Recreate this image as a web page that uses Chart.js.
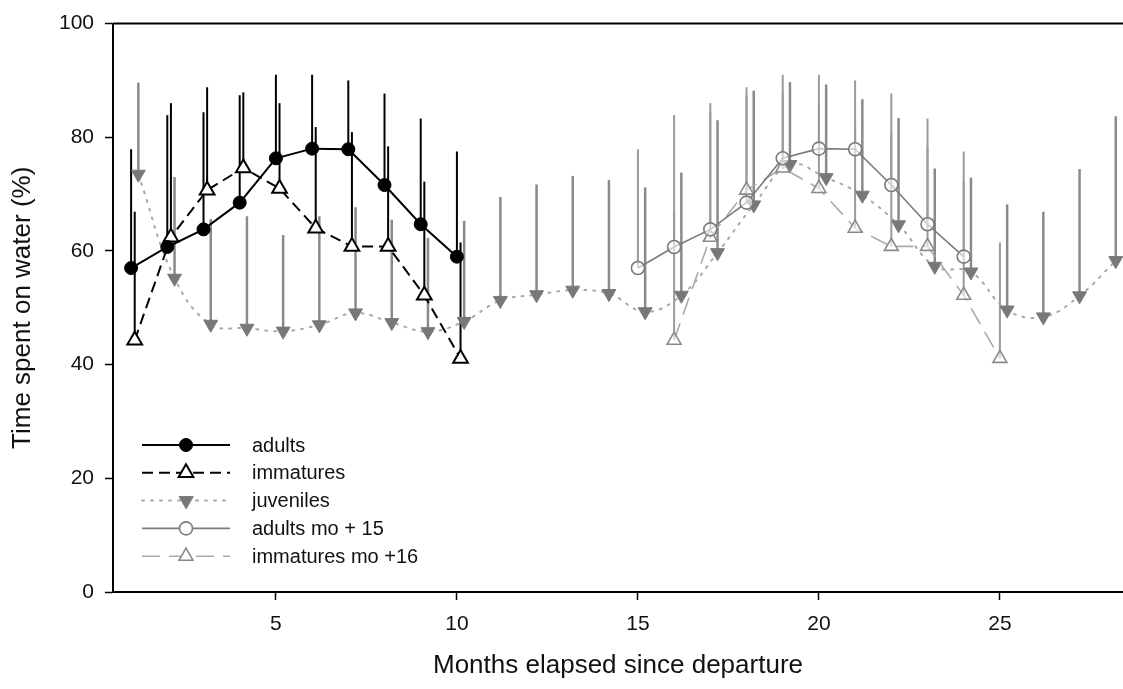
<!DOCTYPE html>
<html>
<head>
<meta charset="utf-8">
<script src="https://cdn.jsdelivr.net/npm/chart.js@4.4.1/dist/chart.umd.min.js"></script>
<style>
  html, body { margin: 0; padding: 0; background: #fff; }
  #wrap { width: 1123px; height: 689px; }
</style>
</head>
<body>
<div id="wrap"><canvas id="chart" width="1123" height="689"></canvas></div>
<script>
// months for each group
const months = [1, 2, 3, 4, 5, 6, 7, 8, 9, 10]
const juvMonths = [1, 2, 3, 4, 5, 6, 7, 8, 9, 10, 11, 12, 13, 14, 15, 16, 17, 18, 19, 20, 21, 22, 23, 24, 25, 26, 27, 28]

// mean % time on water, and top of the error bar
const adults = [57.0, 60.7, 63.8, 68.5, 76.3, 78.0, 77.9, 71.6, 64.7, 59.0]
const adultsUpper = [77.9, 83.9, 84.4, 87.4, 91.0, 91.0, 90.0, 87.7, 83.3, 77.5]
const immatures = [44.3, 62.4, 70.7, 74.6, 71.0, 64.0, 60.8, 60.8, 52.2, 41.1]
const immaturesUpper = [66.9, 86.0, 88.8, 87.9, 86.0, 81.8, 80.9, 78.4, 72.2, 61.5]
const juveniles = [73.5, 55.2, 47.1, 46.4, 45.9, 47.0, 49.1, 47.4, 45.8, 47.6, 51.3, 52.3, 53.1, 52.5,
  49.3, 52.2, 59.7, 68.1, 75.2, 72.9, 69.8, 64.6, 57.3, 56.3, 49.6, 48.4, 52.1, 58.3]
const juvenilesUpper = [89.6, 73.0, 65.6, 66.1, 62.8, 66.1, 67.7, 65.5, 62.3, 65.3, 69.5, 71.7, 73.2, 72.5,
  71.2, 73.8, 83.0, 88.2, 89.7, 89.3, 86.7, 83.4, 74.5, 72.9, 68.2, 66.9, 74.4, 83.7]

// month shifts used for the repeated adult / immature curves
const adultShift = 14
const immatureShift = 15

const xTicks = [5, 10, 15, 20, 25]
const yTicks = [0, 20, 40, 60, 80, 100]

const legendLabels = ['adults', 'immatures', 'juveniles', 'adults mo + 15', 'immatures mo +16']

const FONT = '"Liberation Sans", Arial, sans-serif'

const pts = (xs, ys, off) => xs.map((m, i) => ({ x: m + off, y: ys[i] }))

const datasets = [
  {
    label: legendLabels[0],
    data: pts(months, adults, 0),
    upper: adultsUpper,
    barColor: '#000', barWidth: 2,
    borderColor: '#000', borderWidth: 2,
    pointStyle: 'circle', pointRadius: 6.5,
    pointBackgroundColor: '#000', pointBorderColor: '#000', pointBorderWidth: 1,
    tension: 0
  },
  {
    label: legendLabels[1],
    data: pts(months, immatures, 0.1),
    upper: immaturesUpper,
    barColor: '#000', barWidth: 2,
    borderColor: '#000', borderWidth: 2, borderDash: [11, 6],
    pointStyle: 'triangle', pointRadius: 8.5,
    pointBackgroundColor: '#fff', pointBorderColor: '#000', pointBorderWidth: 2,
    tension: 0
  },
  {
    label: legendLabels[3],
    data: pts(months, adults, adultShift),
    upper: adultsUpper,
    barColor: '#9a9a9a', barWidth: 2,
    borderColor: '#7a7a7a', borderWidth: 1.6,
    pointStyle: 'circle', pointRadius: 6.5,
    pointBackgroundColor: 'rgba(255,255,255,0.6)', pointBorderColor: '#7a7a7a', pointBorderWidth: 1.6,
    tension: 0
  },
  {
    label: legendLabels[4],
    data: pts(months, immatures, immatureShift),
    upper: immaturesUpper,
    barColor: '#9a9a9a', barWidth: 2,
    borderColor: '#ababab', borderWidth: 1.6, borderDash: [18, 9],
    pointStyle: 'triangle', pointRadius: 8,
    pointBackgroundColor: 'rgba(255,255,255,0.6)', pointBorderColor: '#8a8a8a', pointBorderWidth: 1.6,
    tension: 0
  },
  {
    label: legendLabels[2],
    data: pts(juvMonths, juveniles, 0.2),
    upper: juvenilesUpper,
    barColor: '#8a8a8a', barWidth: 2.5,
    borderColor: '#a8a8a8', borderWidth: 2, borderDash: [2, 7], borderCapStyle: 'round',
    pointStyle: 'triangle', pointRotation: 180, pointRadius: 8,
    pointBackgroundColor: '#787878', pointBorderColor: '#787878', pointBorderWidth: 1,
    tension: 0.4
  }
]

// vertical error bars (upper side only) from the point up to its upper value
const errorBars = {
  id: 'errorBars',
  beforeDatasetsDraw(chart) {
    const ctx = chart.ctx
    const xs = chart.scales.x
    const ys = chart.scales.y
    ctx.save()
    for (let d = chart.data.datasets.length - 1; d >= 0; d--) {
      const ds = chart.data.datasets[d]
      ctx.strokeStyle = ds.barColor
      ctx.lineWidth = ds.barWidth
      ds.data.forEach((p, i) => {
        const px = xs.getPixelForValue(p.x)
        ctx.beginPath()
        ctx.moveTo(px, ys.getPixelForValue(p.y))
        ctx.lineTo(px, ys.getPixelForValue(ds.upper[i]))
        ctx.stroke()
      })
    }
    ctx.restore()
  }
}

// top frame line
const frame = {
  id: 'frame',
  afterDraw(chart) {
    const { ctx, chartArea } = chart
    ctx.save()
    ctx.strokeStyle = '#000'
    ctx.lineWidth = 2
    ctx.beginPath()
    ctx.moveTo(chartArea.left, chartArea.top)
    ctx.lineTo(chartArea.right, chartArea.top)
    ctx.stroke()
    ctx.restore()
  }
}

// legend drawn as line + marker samples, like the figure
const sampleLegend = {
  id: 'sampleLegend',
  afterDraw(chart) {
    const ctx = chart.ctx
    const order = [0, 1, 4, 2, 3]
    const x0 = 142, x1 = 230, xm = 186, xt = 252
    ctx.save()
    order.forEach((d, row) => {
      const ds = chart.data.datasets[d]
      const y = 445 + row * 27.8
      ctx.strokeStyle = ds.borderColor
      ctx.lineWidth = ds.borderWidth
      ctx.lineCap = ds.borderCapStyle || 'butt'
      ctx.setLineDash(ds.borderDash || [])
      ctx.beginPath()
      ctx.moveTo(x0, y)
      ctx.lineTo(x1, y)
      ctx.stroke()
      ctx.setLineDash([])
      ctx.fillStyle = ds.pointBackgroundColor === 'rgba(255,255,255,0.6)' ? '#fff' : ds.pointBackgroundColor
      ctx.strokeStyle = ds.pointBorderColor
      ctx.lineWidth = ds.pointBorderWidth
      Chart.helpers.drawPoint(ctx, {
        pointStyle: ds.pointStyle,
        rotation: ds.pointRotation || 0,
        radius: ds.pointRadius,
        borderWidth: ds.pointBorderWidth
      }, xm, y)
      ctx.fillStyle = '#111'
      ctx.font = '20px ' + FONT
      ctx.textBaseline = 'middle'
      ctx.fillText(ds.label, xt, y + 1)
    })
    ctx.restore()
  }
}

new Chart(document.getElementById('chart').getContext('2d'), {
  type: 'line',
  data: { datasets: datasets },
  options: {
    responsive: false,
    animation: false,
    layout: { autoPadding: false, padding: { top: 20, right: 0, left: 0, bottom: 0 } },
    plugins: { legend: { display: false }, tooltip: { enabled: false } },
    elements: { line: { fill: false } },
    scales: {
      x: {
        type: 'linear',
        min: 0.5,
        max: 28.4,
        afterFit: (s) => { s.height = 97; s.paddingLeft = 0; s.paddingRight = 0 },
        afterBuildTicks: (s) => { s.ticks = xTicks.map(v => ({ value: v })) },
        border: { display: true, color: '#000', width: 2 },
        grid: { display: true, drawOnChartArea: false, drawTicks: true, tickLength: 8, tickColor: '#000', tickWidth: 1.5 },
        ticks: { color: '#111', font: { family: FONT, size: 21 }, padding: 12, maxRotation: 0 },
        title: { display: true, text: 'Months elapsed since departure', color: '#111', font: { family: FONT, size: 26 }, padding: { top: 0, bottom: 8 } }
      },
      y: {
        min: 0,
        max: 100,
        afterFit: (s) => { s.width = 113 },
        afterBuildTicks: (s) => { s.ticks = yTicks.map(v => ({ value: v })) },
        border: { display: true, color: '#000', width: 2 },
        grid: { display: true, drawOnChartArea: false, drawTicks: true, tickLength: 8, tickColor: '#000', tickWidth: 1.5 },
        ticks: { color: '#111', font: { family: FONT, size: 21 }, padding: 11 },
        title: { display: true, text: 'Time spent on water (%)', color: '#111', font: { family: FONT, size: 26 }, padding: { top: 7, bottom: 0 } }
      }
    }
  },
  plugins: [errorBars, frame, sampleLegend]
})
</script>
</body>
</html>
